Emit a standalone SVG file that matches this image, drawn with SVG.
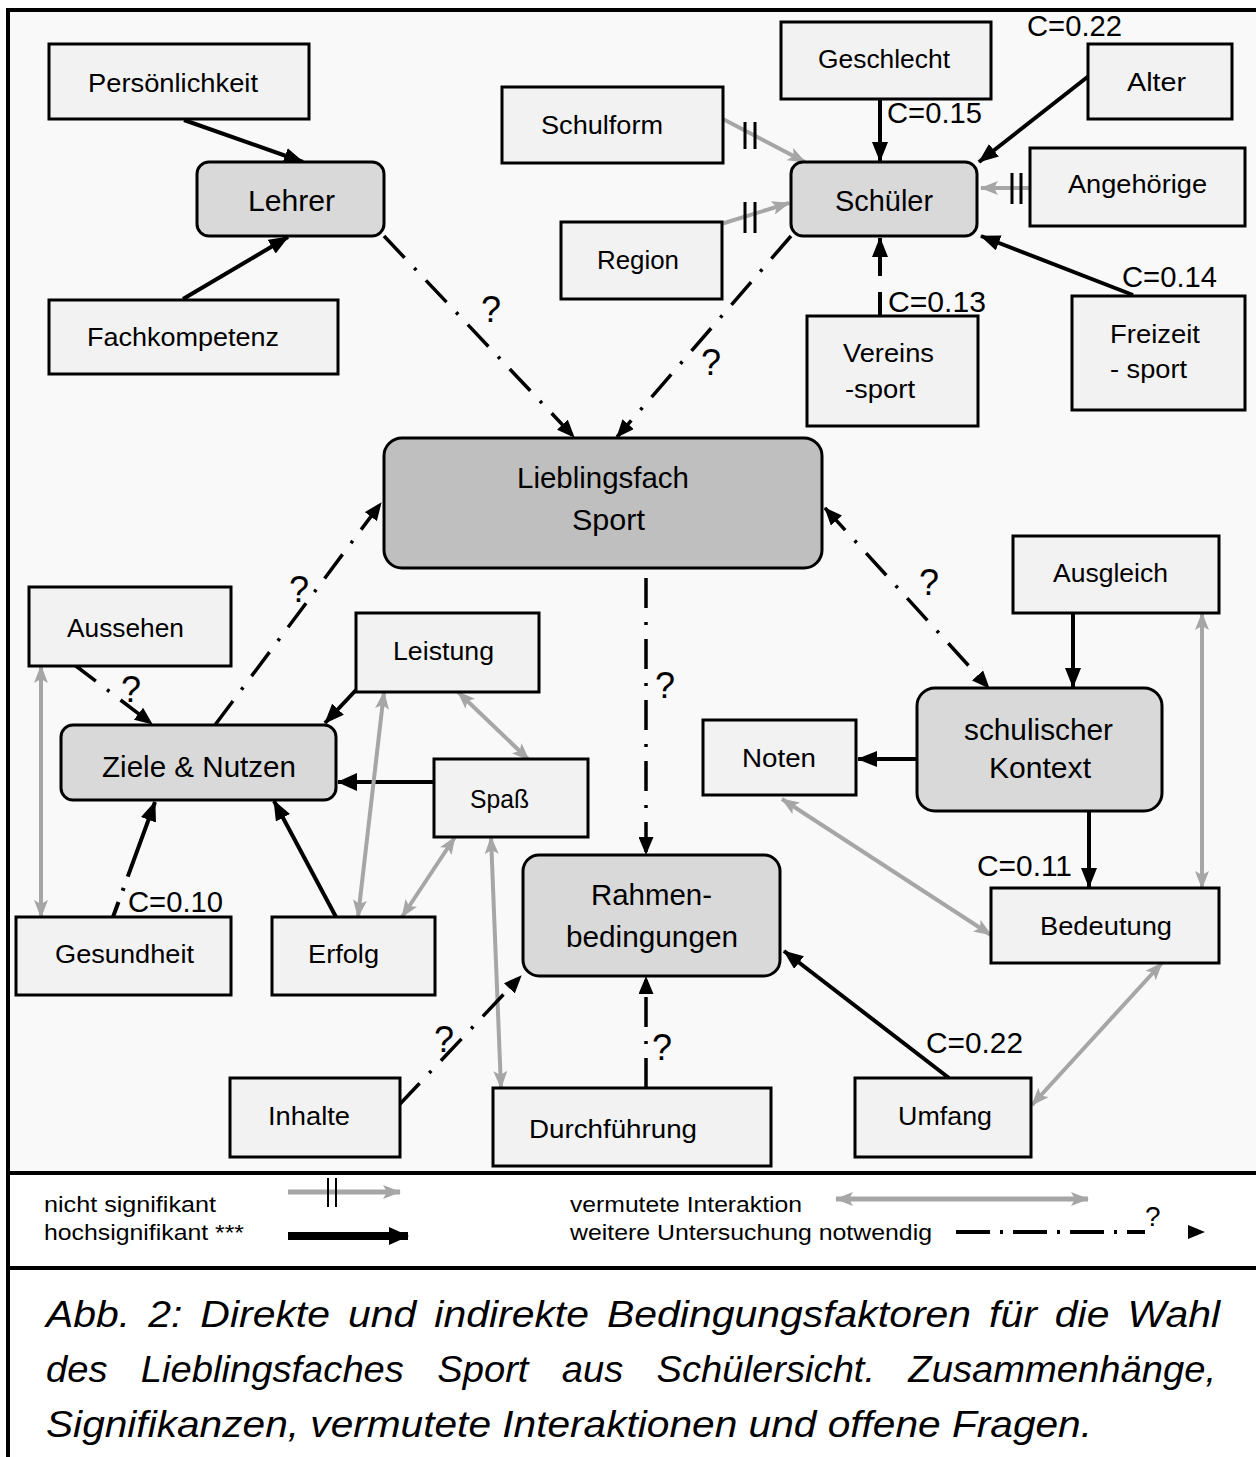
<svg xmlns="http://www.w3.org/2000/svg" width="1256" height="1457" viewBox="0 0 1256 1457">
<style>
.box{fill:#f2f2f2;stroke:#000;stroke-width:3}
.rbox{fill:#d9d9d9;stroke:#000;stroke-width:3}
.main{fill:#bfbfbf;stroke:#000;stroke-width:3}
text{font-family:"Liberation Sans",Arial,sans-serif;fill:#000}
.l{font-size:25px}
.L{font-size:29px}
.c{font-size:29px}
.q{font-size:36px}
.lg{font-size:22px}
.cap{font-size:37px;font-style:italic}
.blk{stroke:#000;stroke-width:4;fill:none}
.gry{stroke:#a6a6a6;stroke-width:4;fill:none}
.dd{stroke:#000;stroke-width:3.5;fill:none;stroke-dasharray:30 14 3 14}
.tick{stroke:#000;stroke-width:3}
</style>
<defs>
<marker id="mb" viewBox="0 0 20 16" refX="19" refY="8" markerWidth="20" markerHeight="16" markerUnits="userSpaceOnUse" orient="auto"><path d="M0,0 L20,8 L0,16 z" fill="#000"/></marker>
<marker id="mbb" viewBox="0 0 20 18" refX="19" refY="9" markerWidth="20" markerHeight="18" markerUnits="userSpaceOnUse" orient="auto"><path d="M0,0 L20,9 L0,18 z" fill="#000"/></marker>
<marker id="mg" viewBox="0 0 18 14" refX="17" refY="7" markerWidth="18" markerHeight="14" markerUnits="userSpaceOnUse" orient="auto-start-reverse"><path d="M0,0 L18,7 L0,14 L4,7 z" fill="#a6a6a6"/></marker>
<marker id="md" viewBox="0 0 18 15" refX="17" refY="7.5" markerWidth="18" markerHeight="15" markerUnits="userSpaceOnUse" orient="auto-start-reverse"><path d="M0,0 L18,7.5 L0,15 z" fill="#000"/></marker>
</defs>
<rect x="8" y="10" width="1248" height="1163" fill="#f9f9f9"/>
<rect x="8" y="1173" width="1248" height="284" fill="#ffffff"/>
<path d="M8,1457 V10 H1256" fill="none" stroke="#000" stroke-width="4"/>
<line x1="8" y1="1173" x2="1256" y2="1173" stroke="#000" stroke-width="4"/>
<line x1="8" y1="1268" x2="1256" y2="1268" stroke="#000" stroke-width="4"/>

<g id="connectors">
<path class="blk" d="M184,120 L303,162" marker-end="url(#mb)"/>
<path class="blk" d="M183,299 L288,237" marker-end="url(#mb)"/>
<path class="blk" d="M880,99 L880,161" marker-end="url(#mb)"/>
<path class="blk" d="M1090,75 L979,162" marker-end="url(#mb)"/>
<path class="blk" d="M880,316 L880,292"/>
<path class="blk" d="M880,276 L880,238" marker-end="url(#mb)"/>
<path class="blk" d="M1133,295 L981,236" marker-end="url(#mb)"/>
<path class="blk" d="M917,759 L858,759" marker-end="url(#mb)"/>
<path class="blk" d="M1073,613 L1073,687" marker-end="url(#mb)"/>
<path class="blk" d="M1089,811 L1089,887" marker-end="url(#mb)"/>
<path class="blk" d="M356,690 L325,723" marker-end="url(#mb)"/>
<path class="blk" d="M434,782 L338,782" stroke-width="7" marker-end="url(#mbb)"/>
<path class="blk" d="M336,917 L274,801" marker-end="url(#mb)"/>
<path class="blk" d="M113,917 L155,802" stroke-dasharray="16 12 3 12 200" marker-end="url(#mb)"/>
<path class="blk" d="M949,1078 L784,951" marker-end="url(#mb)"/>

<path class="gry" d="M721,118 L805,162" marker-end="url(#mg)"/>
<path class="gry" d="M721,224 L789,203" marker-end="url(#mg)"/>
<path class="gry" d="M1030,188 L981,188" marker-end="url(#mg)"/>
<path class="gry" d="M41,666 L41,917" marker-start="url(#mg)" marker-end="url(#mg)"/>
<path class="gry" d="M384,692 L358,917" marker-start="url(#mg)" marker-end="url(#mg)"/>
<path class="gry" d="M458,692 L529,760" marker-start="url(#mg)" marker-end="url(#mg)"/>
<path class="gry" d="M455,837 L402,917" marker-start="url(#mg)" marker-end="url(#mg)"/>
<path class="gry" d="M491,837 L501,1088" marker-start="url(#mg)" marker-end="url(#mg)"/>
<path class="gry" d="M782,799 L991,935" marker-start="url(#mg)" marker-end="url(#mg)"/>
<path class="gry" d="M1202,613 L1202,888" marker-start="url(#mg)" marker-end="url(#mg)"/>
<path class="gry" d="M1162,963 L1032,1105" marker-start="url(#mg)" marker-end="url(#mg)"/>

<path class="tick" d="M745,122 V149 M755,122 V149 M745,202 V233 M755,202 V233 M1012,173 V204 M1021,173 V204"/>

<path class="dd" d="M384,236 L574,437" marker-end="url(#md)"/>
<path class="dd" d="M791,236 L617,437" marker-end="url(#md)"/>
<path class="dd" d="M215,725 L381,503" marker-end="url(#md)"/>
<path class="dd" d="M825,508 L989,688" marker-start="url(#md)" marker-end="url(#md)"/>
<path class="dd" d="M646,578 L646,854" stroke-dasharray="40 17 3 15" marker-end="url(#md)"/>
<path class="dd" d="M399,1105 L521,976" marker-end="url(#md)"/>
<path class="dd" d="M646,1088 L646,977" stroke-dasharray="40 17 3 15" marker-end="url(#md)"/>
<path class="dd" d="M72,663 L152,724" marker-end="url(#md)"/>
</g>

<g id="persoenlichkeit"><rect class="box" x="49" y="44" width="260" height="75"/><text class="l" x="88" y="92" textLength="170" lengthAdjust="spacingAndGlyphs">Persönlichkeit</text></g>
<g id="fachkompetenz"><rect class="box" x="49" y="300" width="289" height="74"/><text class="l" x="87" y="346" textLength="192" lengthAdjust="spacingAndGlyphs">Fachkompetenz</text></g>
<g id="lehrer"><rect class="rbox" x="197" y="162" width="187" height="74" rx="12"/><text class="L" x="248" y="211" textLength="87" lengthAdjust="spacingAndGlyphs">Lehrer</text></g>
<g id="schulform"><rect class="box" x="502" y="87" width="221" height="76"/><text class="l" x="541" y="134" textLength="122" lengthAdjust="spacingAndGlyphs">Schulform</text></g>
<g id="region"><rect class="box" x="561" y="222" width="161" height="77"/><text class="l" x="597" y="269" textLength="82" lengthAdjust="spacingAndGlyphs">Region</text></g>
<g id="geschlecht"><rect class="box" x="781" y="22" width="210" height="77"/><text class="l" x="818" y="68" textLength="132" lengthAdjust="spacingAndGlyphs">Geschlecht</text></g>
<g id="schueler"><rect class="rbox" x="791" y="162" width="186" height="74" rx="12"/><text class="L" x="835" y="211" textLength="98" lengthAdjust="spacingAndGlyphs">Schüler</text></g>
<g id="alter"><rect class="box" x="1088" y="44" width="144" height="75"/><text class="l" x="1127" y="91" textLength="59" lengthAdjust="spacingAndGlyphs">Alter</text></g>
<g id="angehoerige"><rect class="box" x="1030" y="148" width="215" height="78"/><text class="l" x="1068" y="193" textLength="139" lengthAdjust="spacingAndGlyphs">Angehörige</text></g>
<g id="vereinssport"><rect class="box" x="807" y="316" width="171" height="110"/><text class="l" x="843" y="362" textLength="91" lengthAdjust="spacingAndGlyphs">Vereins</text><text class="l" x="845" y="398" textLength="70" lengthAdjust="spacingAndGlyphs">-sport</text></g>
<g id="freizeitsport"><rect class="box" x="1072" y="296" width="173" height="114"/><text class="l" x="1110" y="343" textLength="90" lengthAdjust="spacingAndGlyphs">Freizeit</text><text class="l" x="1110" y="378" textLength="77" lengthAdjust="spacingAndGlyphs">- sport</text></g>
<g id="lieblingsfach"><rect class="main" x="384" y="438" width="438" height="130" rx="18"/><text class="L" x="517" y="488" textLength="172" lengthAdjust="spacingAndGlyphs">Lieblingsfach</text><text class="L" x="572" y="530" textLength="73" lengthAdjust="spacingAndGlyphs">Sport</text></g>
<g id="aussehen"><rect class="box" x="29" y="587" width="202" height="79"/><text class="l" x="67" y="637" textLength="117" lengthAdjust="spacingAndGlyphs">Aussehen</text></g>
<g id="leistung"><rect class="box" x="356" y="613" width="183" height="79"/><text class="l" x="393" y="660" textLength="101" lengthAdjust="spacingAndGlyphs">Leistung</text></g>
<g id="ziele"><rect class="rbox" x="61" y="725" width="275" height="75" rx="12"/><text class="L" x="102" y="777" textLength="194" lengthAdjust="spacingAndGlyphs">Ziele &amp; Nutzen</text></g>
<g id="spass"><rect class="box" x="434" y="759" width="154" height="78"/><text class="l" x="470" y="808" textLength="59" lengthAdjust="spacingAndGlyphs">Spaß</text></g>
<g id="gesundheit"><rect class="box" x="16" y="917" width="215" height="78"/><text class="l" x="55" y="963" textLength="139" lengthAdjust="spacingAndGlyphs">Gesundheit</text></g>
<g id="erfolg"><rect class="box" x="272" y="917" width="163" height="78"/><text class="l" x="308" y="963" textLength="71" lengthAdjust="spacingAndGlyphs">Erfolg</text></g>
<g id="ausgleich"><rect class="box" x="1013" y="536" width="206" height="77"/><text class="l" x="1053" y="582" textLength="115" lengthAdjust="spacingAndGlyphs">Ausgleich</text></g>
<g id="schulischer"><rect class="rbox" x="917" y="688" width="245" height="123" rx="18"/><text class="L" x="964" y="740" textLength="149" lengthAdjust="spacingAndGlyphs">schulischer</text><text class="L" x="989" y="778" textLength="102" lengthAdjust="spacingAndGlyphs">Kontext</text></g>
<g id="noten"><rect class="box" x="703" y="720" width="153" height="75"/><text class="l" x="742" y="767" textLength="74" lengthAdjust="spacingAndGlyphs">Noten</text></g>
<g id="bedeutung"><rect class="box" x="991" y="888" width="228" height="75"/><text class="l" x="1040" y="935" textLength="132" lengthAdjust="spacingAndGlyphs">Bedeutung</text></g>
<g id="rahmen"><rect class="rbox" x="523" y="855" width="257" height="121" rx="16"/><text class="L" x="591" y="905" textLength="121" lengthAdjust="spacingAndGlyphs">Rahmen-</text><text class="L" x="566" y="947" textLength="172" lengthAdjust="spacingAndGlyphs">bedingungen</text></g>
<g id="inhalte"><rect class="box" x="230" y="1078" width="170" height="79"/><text class="l" x="268" y="1125" textLength="82" lengthAdjust="spacingAndGlyphs">Inhalte</text></g>
<g id="durchfuehrung"><rect class="box" x="493" y="1088" width="278" height="78"/><text class="l" x="529" y="1138" textLength="168" lengthAdjust="spacingAndGlyphs">Durchführung</text></g>
<g id="umfang"><rect class="box" x="855" y="1078" width="176" height="79"/><text class="l" x="898" y="1125" textLength="94" lengthAdjust="spacingAndGlyphs">Umfang</text></g>

<g id="labels">
<text class="c" x="1027" y="36" textLength="95" lengthAdjust="spacingAndGlyphs">C=0.22</text>
<text class="c" x="887" y="123" textLength="95" lengthAdjust="spacingAndGlyphs">C=0.15</text>
<text class="c" x="888" y="312" textLength="98" lengthAdjust="spacingAndGlyphs">C=0.13</text>
<text class="c" x="1122" y="287" textLength="95" lengthAdjust="spacingAndGlyphs">C=0.14</text>
<text class="c" x="128" y="912" textLength="95" lengthAdjust="spacingAndGlyphs">C=0.10</text>
<text class="c" x="977" y="876" textLength="95" lengthAdjust="spacingAndGlyphs">C=0.11</text>
<text class="c" x="926" y="1053" textLength="97" lengthAdjust="spacingAndGlyphs">C=0.22</text>
<text class="q" x="481" y="322">?</text>
<text class="q" x="701" y="375">?</text>
<text class="q" x="289" y="602">?</text>
<text class="q" x="121" y="702">?</text>
<text class="q" x="919" y="595">?</text>
<text class="q" x="655" y="698">?</text>
<text class="q" x="434" y="1052">?</text>
<text class="q" x="652" y="1060">?</text>
</g>

<g id="legend">
<text class="lg" x="44" y="1212" textLength="172" lengthAdjust="spacingAndGlyphs">nicht signifikant</text>
<text class="lg" x="44" y="1240" textLength="200" lengthAdjust="spacingAndGlyphs">hochsignifikant ***</text>
<path d="M288,1192 L400,1192" stroke="#a6a6a6" stroke-width="5" fill="none" marker-end="url(#mg)"/>
<path d="M328,1178 V1207 M336,1178 V1207" stroke="#000" stroke-width="2"/>
<path d="M288,1236 L408,1236" stroke="#000" stroke-width="8" fill="none" marker-end="url(#mbb)"/>
<text class="lg" x="570" y="1212" textLength="232" lengthAdjust="spacingAndGlyphs">vermutete Interaktion</text>
<text class="lg" x="570" y="1240" textLength="362" lengthAdjust="spacingAndGlyphs">weitere Untersuchung notwendig</text>
<path d="M836,1199 L1088,1199" stroke="#a6a6a6" stroke-width="5" fill="none" marker-start="url(#mg)" marker-end="url(#mg)"/>
<path d="M956,1232 L1145,1232" stroke="#000" stroke-width="4" fill="none" stroke-dasharray="34 10 3 10"/>
<text x="1145" y="1226" font-size="28px">?</text>
<path d="M1188,1225 L1205,1232 L1188,1239 z" fill="#000"/>
</g>

<g id="caption">
<text class="cap" x="46" y="1327" word-spacing="6" textLength="1174" lengthAdjust="spacingAndGlyphs">Abb. 2: Direkte und indirekte Bedingungsfaktoren für die Wahl</text>
<text class="cap" x="46" y="1382" word-spacing="22" textLength="1170" lengthAdjust="spacingAndGlyphs">des Lieblingsfaches Sport aus Schülersicht. Zusammenhänge,</text>
<text class="cap" x="46" y="1437" textLength="1046" lengthAdjust="spacingAndGlyphs">Signifikanzen, vermutete Interaktionen und offene Fragen.</text>
</g>
</svg>
